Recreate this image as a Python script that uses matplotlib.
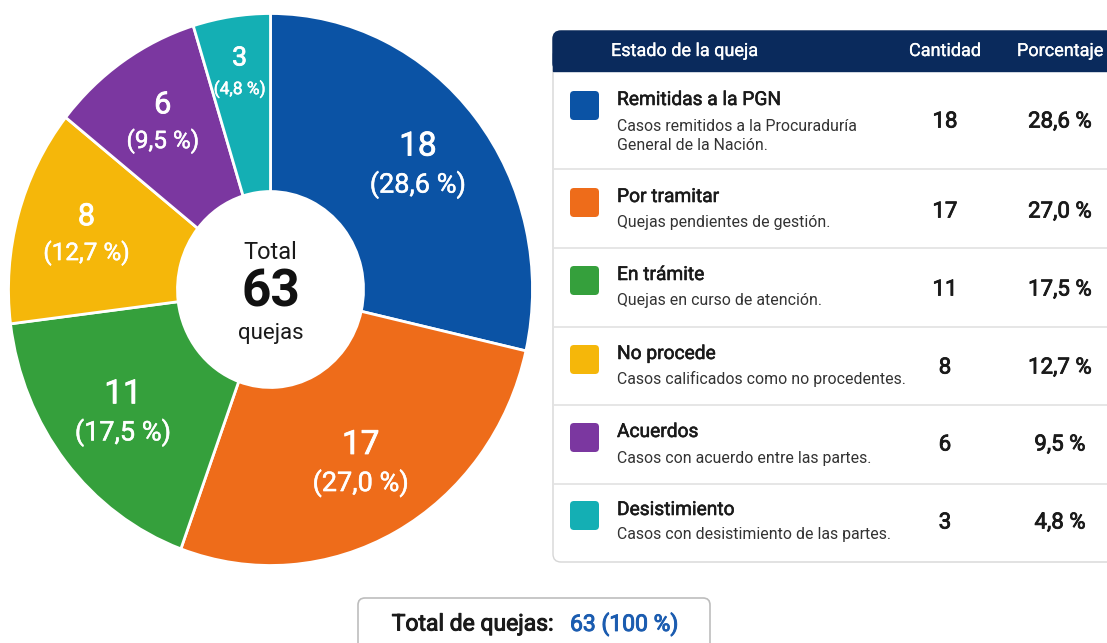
import matplotlib
matplotlib.use("Agg")
import matplotlib.pyplot as plt
from matplotlib.patches import FancyBboxPatch, Rectangle
import matplotlib.patheffects as pe
import numpy as np

# ---------------- data ----------------
categories = ["Remitidas a la PGN", "Por tramitar", "En trámite",
              "No procede", "Acuerdos", "Desistimiento"]
descriptions = ["Casos remitidos a la Procuraduría\nGeneral de la Nación.",
                "Quejas pendientes de gestión.",
                "Quejas en curso de atención.",
                "Casos calificados como no procedentes.",
                "Casos con acuerdo entre las partes.",
                "Casos con desistimiento de las partes."]
counts = [18, 17, 11, 8, 6, 3]
colors = ["#0B53A5", "#EE6C1A", "#35A03C", "#F5B70A", "#7B37A0", "#14AFB4"]
header_labels = ["Estado de la queja", "Cantidad", "Porcentaje"]
center_labels = ["Total", "quejas"]
footer_label = "Total de quejas:"

total = sum(counts)
pcts = [c / total * 100 for c in counts]
def fmt_pct(p):
    return f"{p:.1f}".replace(".", ",") + " %"

def heavier(color, w):
    return [pe.withStroke(linewidth=w, foreground=color)]

plt.rcParams['font.family'] = ['Roboto', 'DejaVu Sans']

W, H = 1107, 643
fig = plt.figure(figsize=(W / 100, H / 100), dpi=100)
fig.patch.set_facecolor("white")

bg = fig.add_axes([0, 0, 1, 1])
bg.set_xlim(0, W)
bg.set_ylim(H, 0)
bg.axis('off')

# ---------------- donut ----------------
cx, cy, RX, RY = 270.5, 289.5, 262, 276
pax = fig.add_axes([(cx - RX) / W, 1 - (cy + RY) / H, 2 * RX / W, 2 * RY / H])
wedges, _ = pax.pie(counts, colors=colors, startangle=90, counterclock=False,
                    radius=1, wedgeprops=dict(width=0.645, edgecolor='white', linewidth=2))
pax.set_aspect('auto')
pax.set_xlim(-1, 1)
pax.set_ylim(-1, 1)
pax.axis('off')

for i, w in enumerate(wedges):
    th = np.deg2rad((w.theta1 + w.theta2) / 2)
    p = pcts[i]
    if p < 7:
        r, big, sm, dy = 0.79, 19, 12.5, 0.056
    elif p < 15:
        r, big, sm, dy = 0.73, 22, 17.5, 0.066
    else:
        r, big, sm, dy = 0.72, 24, 19.5, 0.069
    x, y = r * np.cos(th), r * np.sin(th)
    pax.text(x, y + dy, str(counts[i]), color='white', fontsize=big,
             ha='center', va='center', path_effects=heavier('white', 0.6))
    pax.text(x, y - dy, "(" + fmt_pct(p) + ")", color='white', fontsize=sm,
             ha='center', va='center', path_effects=heavier('white', 0.35))

pax.text(0, 0.135, center_labels[0], fontsize=17, color='#1A1A1A', ha='center', va='center')
pax.text(0, -0.011, str(total), fontsize=37, fontweight='bold', color='#111111',
         ha='center', va='center')
pax.text(0, -0.16, center_labels[1], fontsize=16, color='#1A1A1A', ha='center', va='center')

# ---------------- table ----------------
tx0, tx1 = 553, 1120
ty0, ty1 = 31, 562
bg.add_patch(FancyBboxPatch((tx0, ty0), tx1 - tx0, ty1 - ty0,
                            boxstyle="round,pad=0,rounding_size=8",
                            fc='white', ec='#D6D6D6', lw=1))
navy = "#0A2A5C"
bg.add_patch(FancyBboxPatch((tx0, ty0), tx1 - tx0, 40,
                            boxstyle="round,pad=0,rounding_size=8", fc=navy, ec=navy, lw=1))
bg.add_patch(Rectangle((tx0, ty0 + 22), tx1 - tx0, 18, fc=navy, ec=navy, lw=1))

col_count_x, col_pct_x = 945, 1060
for lab, x, ha in zip(header_labels, [611, col_count_x, col_pct_x], ['left', 'center', 'center']):
    bg.text(x, 51, lab, color='white', fontsize=13, ha=ha, va='center',
            path_effects=heavier('white', 0.2))

row_bounds = [71, 169, 248, 327, 405, 484, 562]
title_y = [100, 197, 275, 354, 432, 510]
desc_y = [136, 222, 301, 379, 458, 535]
num_y = [122, 212, 290, 368, 445, 523]

for b in row_bounds[1:-1]:
    bg.plot([tx0 + 1, tx1], [b, b], color='#E2E2E2', lw=1.2)

for i in range(len(categories)):
    bg.add_patch(FancyBboxPatch((570, title_y[i] - 9), 29, 29,
                                boxstyle="round,pad=0,rounding_size=4",
                                fc=colors[i], ec='none'))
    bg.text(617, title_y[i], categories[i], fontsize=13.8,
            color='#1A1A1A', ha='left', va='center', path_effects=heavier('#1A1A1A', 0.4))
    bg.text(617, desc_y[i], descriptions[i], fontsize=11.4, color='#333333',
            ha='left', va='center', linespacing=1.3)
    bg.text(col_count_x, num_y[i], str(counts[i]), fontsize=16,
            color='#1A1A1A', ha='center', va='center', path_effects=heavier('#1A1A1A', 0.6))
    bg.text(col_pct_x, num_y[i], fmt_pct(pcts[i]), fontsize=16,
            color='#1A1A1A', ha='center', va='center', path_effects=heavier('#1A1A1A', 0.6))

# ---------------- footer ----------------
bg.add_patch(FancyBboxPatch((358, 598), 352, 60, boxstyle="round,pad=0,rounding_size=7",
                            fc='white', ec='#BDBDBD', lw=1.2))
bg.text(553, 624, footer_label, fontsize=16.5, color='#1A1A1A',
        ha='right', va='center', path_effects=heavier('#1A1A1A', 0.7))
bg.text(570, 624, f"{total} (100 %)", fontsize=16.5, color='#1B5CB0',
        ha='left', va='center', path_effects=heavier('#1B5CB0', 0.7))

fig.savefig("out.png", dpi=100, facecolor='white')
